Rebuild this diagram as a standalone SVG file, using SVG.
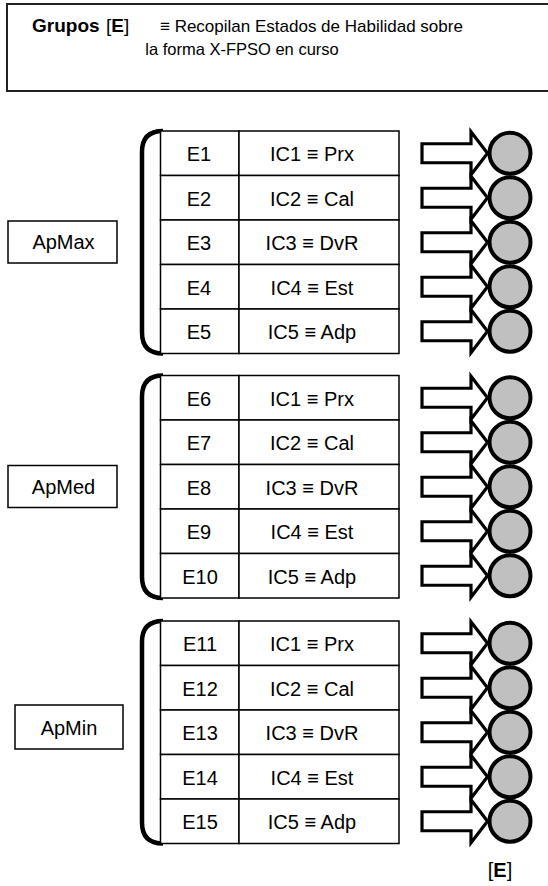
<svg xmlns="http://www.w3.org/2000/svg" xmlns:xlink="http://www.w3.org/1999/xlink" width="548" height="886" viewBox="0 0 548 886">
<style>
text{font-family:"Liberation Sans",Arial,sans-serif;font-size:20px;fill:#000}
.t{font-size:17px}
.tb{font-size:19px}
.b{font-weight:bold}
.c{text-anchor:middle}
.cell{fill:#fff;stroke:#000;stroke-width:1.5}
.lbl{fill:#fff;stroke:#000;stroke-width:1.5}
.brk{fill:none;stroke:#000;stroke-width:4.5}
.arr{fill:#fff;stroke:#000;stroke-width:3.2;stroke-linejoin:miter}
.dot{fill:#c0c0c0;stroke:#000;stroke-width:4}
</style>
<defs>
<path id="arrow" class="arr" d="M0,-9.5 H49 V-21.5 L65.5,0 L49,21.5 V9.5 H0 Z"/>
<circle id="dot" class="dot" cx="0" cy="0" r="20.5"/>
</defs>
<rect width="548" height="886" fill="#fff"/>
<g id="title">
<rect x="7" y="4" width="560" height="87" fill="#fff" stroke="#222" stroke-width="2"/>
<text class="tb b" x="32" y="32">Grupos</text>
<text class="tb" x="106" y="32">[<tspan class="b">E</tspan>]</text>
<text class="t" x="160" y="32">≡ Recopilan Estados de Habilidad sobre</text>
<text class="t c" x="242" y="55" style="font-size:16.5px">la forma X-FPSO en curso</text>
</g>
<g id="labels">
<g id="ApMax"><rect class="lbl" x="8" y="221" width="109" height="42"/><text class="c" x="63.5" y="249">ApMax</text></g>
<g id="ApMed"><rect class="lbl" x="8" y="465.5" width="109" height="42"/><text class="c" x="63.5" y="493.5">ApMed</text></g>
<g id="ApMin"><rect class="lbl" x="15" y="705" width="108" height="44"/><text class="c" x="69" y="734.5">ApMin</text></g>
</g>
<g id="brackets">
<path class="brk" d="M163,131 Q142,131 142,152 V332.5 Q142,353.5 163,353.5"/>
<path class="brk" d="M163,375.5 Q142,375.5 142,396.5 V577 Q142,598 163,598"/>
<path class="brk" d="M163,621 Q142,621 142,642 V822.5 Q142,843.5 163,843.5"/>
</g>
<g id="tables">
<g id="group1">
<rect class="cell" x="160.5" y="131" width="78.5" height="44.5"/><rect class="cell" x="239" y="131" width="160" height="44.5"/>
<rect class="cell" x="160.5" y="175.5" width="78.5" height="44.5"/><rect class="cell" x="239" y="175.5" width="160" height="44.5"/>
<rect class="cell" x="160.5" y="220" width="78.5" height="44.5"/><rect class="cell" x="239" y="220" width="160" height="44.5"/>
<rect class="cell" x="160.5" y="264.5" width="78.5" height="44.5"/><rect class="cell" x="239" y="264.5" width="160" height="44.5"/>
<rect class="cell" x="160.5" y="309" width="78.5" height="44.5"/><rect class="cell" x="239" y="309" width="160" height="44.5"/>
<text class="c" x="199" y="161">E1</text>
<text class="c" x="199" y="205.5">E2</text>
<text class="c" x="199" y="250">E3</text>
<text class="c" x="199" y="294.5">E4</text>
<text class="c" x="199" y="339">E5</text>
<text class="c" x="312" y="161">IC1 ≡ Prx</text>
<text class="c" x="312" y="205.5">IC2 ≡ Cal</text>
<text class="c" x="312" y="250">IC3 ≡ DvR</text>
<text class="c" x="312" y="294.5">IC4 ≡ Est</text>
<text class="c" x="312" y="339">IC5 ≡ Adp</text>
</g>
<g id="group2">
<rect class="cell" x="160.5" y="375.5" width="78.5" height="44.5"/><rect class="cell" x="239" y="375.5" width="160" height="44.5"/>
<rect class="cell" x="160.5" y="420" width="78.5" height="44.5"/><rect class="cell" x="239" y="420" width="160" height="44.5"/>
<rect class="cell" x="160.5" y="464.5" width="78.5" height="44.5"/><rect class="cell" x="239" y="464.5" width="160" height="44.5"/>
<rect class="cell" x="160.5" y="509" width="78.5" height="44.5"/><rect class="cell" x="239" y="509" width="160" height="44.5"/>
<rect class="cell" x="160.5" y="553.5" width="78.5" height="44.5"/><rect class="cell" x="239" y="553.5" width="160" height="44.5"/>
<text class="c" x="199" y="405.5">E6</text>
<text class="c" x="199" y="450">E7</text>
<text class="c" x="199" y="494.5">E8</text>
<text class="c" x="199" y="539">E9</text>
<text class="c" x="200" y="583.5">E10</text>
<text class="c" x="312" y="405.5">IC1 ≡ Prx</text>
<text class="c" x="312" y="450">IC2 ≡ Cal</text>
<text class="c" x="312" y="494.5">IC3 ≡ DvR</text>
<text class="c" x="312" y="539">IC4 ≡ Est</text>
<text class="c" x="312" y="583.5">IC5 ≡ Adp</text>
</g>
<g id="group3">
<rect class="cell" x="160.5" y="621" width="78.5" height="44.5"/><rect class="cell" x="239" y="621" width="160" height="44.5"/>
<rect class="cell" x="160.5" y="665.5" width="78.5" height="44.5"/><rect class="cell" x="239" y="665.5" width="160" height="44.5"/>
<rect class="cell" x="160.5" y="710" width="78.5" height="44.5"/><rect class="cell" x="239" y="710" width="160" height="44.5"/>
<rect class="cell" x="160.5" y="754.5" width="78.5" height="44.5"/><rect class="cell" x="239" y="754.5" width="160" height="44.5"/>
<rect class="cell" x="160.5" y="799" width="78.5" height="44.5"/><rect class="cell" x="239" y="799" width="160" height="44.5"/>
<text class="c" x="200" y="651">E11</text>
<text class="c" x="200" y="695.5">E12</text>
<text class="c" x="200" y="740">E13</text>
<text class="c" x="200" y="784.5">E14</text>
<text class="c" x="200" y="829">E15</text>
<text class="c" x="312" y="651">IC1 ≡ Prx</text>
<text class="c" x="312" y="695.5">IC2 ≡ Cal</text>
<text class="c" x="312" y="740">IC3 ≡ DvR</text>
<text class="c" x="312" y="784.5">IC4 ≡ Est</text>
<text class="c" x="312" y="829">IC5 ≡ Adp</text>
</g>
</g>
<g id="connectors">
<use xlink:href="#arrow" x="422" y="153.25"/>
<use xlink:href="#arrow" x="422" y="197.75"/>
<use xlink:href="#arrow" x="422" y="242.25"/>
<use xlink:href="#arrow" x="422" y="286.75"/>
<use xlink:href="#arrow" x="422" y="331.25"/>
<use xlink:href="#arrow" x="422" y="397.75"/>
<use xlink:href="#arrow" x="422" y="442.25"/>
<use xlink:href="#arrow" x="422" y="486.75"/>
<use xlink:href="#arrow" x="422" y="531.25"/>
<use xlink:href="#arrow" x="422" y="575.75"/>
<use xlink:href="#arrow" x="422" y="643.25"/>
<use xlink:href="#arrow" x="422" y="687.75"/>
<use xlink:href="#arrow" x="422" y="732.25"/>
<use xlink:href="#arrow" x="422" y="776.75"/>
<use xlink:href="#arrow" x="422" y="821.25"/>
</g>
<g id="states">
<use xlink:href="#dot" x="510" y="153.25"/>
<use xlink:href="#dot" x="510" y="197.75"/>
<use xlink:href="#dot" x="510" y="242.25"/>
<use xlink:href="#dot" x="510" y="286.75"/>
<use xlink:href="#dot" x="510" y="331.25"/>
<use xlink:href="#dot" x="510" y="397.75"/>
<use xlink:href="#dot" x="510" y="442.25"/>
<use xlink:href="#dot" x="510" y="486.75"/>
<use xlink:href="#dot" x="510" y="531.25"/>
<use xlink:href="#dot" x="510" y="575.75"/>
<use xlink:href="#dot" x="510" y="643.25"/>
<use xlink:href="#dot" x="510" y="687.75"/>
<use xlink:href="#dot" x="510" y="732.25"/>
<use xlink:href="#dot" x="510" y="776.75"/>
<use xlink:href="#dot" x="510" y="821.25"/>
</g>
<g id="E-label">
<text class="c" x="500" y="877">[<tspan class="b">E</tspan>]</text>
</g>
</svg>
